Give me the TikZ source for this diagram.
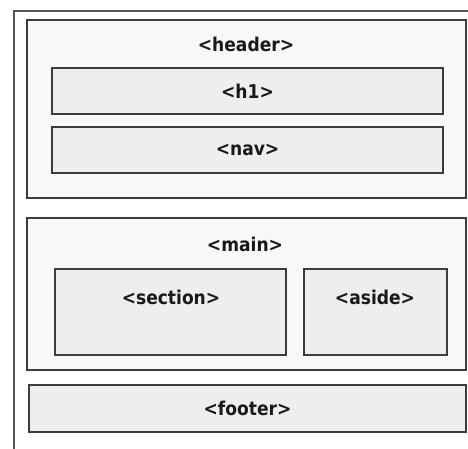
\documentclass[tikz,border=0pt]{standalone}
\usepackage{fontspec}
\newfontfamily\condfont{DejaVu Sans Condensed}
\definecolor{edge}{HTML}{3C3C3C}
\definecolor{outerfill}{HTML}{F8F8F8}
\definecolor{innerfill}{HTML}{EEEEEE}
\definecolor{frameline}{HTML}{555555}
\begin{document}
\begin{tikzpicture}[x=1pt,y=-1pt,
  outerbox/.style={draw=edge,line width=1.2pt,fill=outerfill,rectangle,inner sep=0pt},
  innerbox/.style={draw=edge,line width=1.2pt,fill=innerfill,rectangle,inner sep=0pt},
  tag/.style={font=\condfont\bfseries\fontsize{19}{22}\selectfont,text=black!90,inner sep=0pt}]
\useasboundingbox[fill=white] (0,0) rectangle (468,449);
\coordinate (fb) at (14,449);
\coordinate (fc) at (14,11);
\coordinate (fr) at (468,11);
\draw[frameline,line width=1.3pt] (fb) -- (fc) -- (fr);
% header
\node[outerbox,minimum width=439pt,minimum height=178pt] (header) at (246.5,109) {};
\node[tag] (headerlbl) at (246,44) {<header>};
\node[innerbox,minimum width=391pt,minimum height=46pt] (h1) at (247.5,91) {};
\node[tag] (h1lbl) at (h1.center) {<h1>};
\node[innerbox,minimum width=391pt,minimum height=46pt] (nav) at (247.5,150) {};
\node[tag] (navlbl) at (nav.center) {<nav>};
% main
\node[outerbox,minimum width=439pt,minimum height=152pt] (main) at (246.5,294) {};
\node[tag] (mainlbl) at (245,244) {<main>};
\node[innerbox,minimum width=231pt,minimum height=86pt] (section) at (170.5,312) {};
\node[tag] (sectionlbl) at (171,297) {<section>};
\node[innerbox,minimum width=143pt,minimum height=86pt] (aside) at (375.5,312) {};
\node[tag] (asidelbl) at (375,297) {<aside>};
% footer
\node[innerbox,minimum width=437pt,minimum height=47pt] (footer) at (247.5,408.5) {};
\node[tag] (footerlbl) at (footer.center) {<footer>};
\end{tikzpicture}
\end{document}
